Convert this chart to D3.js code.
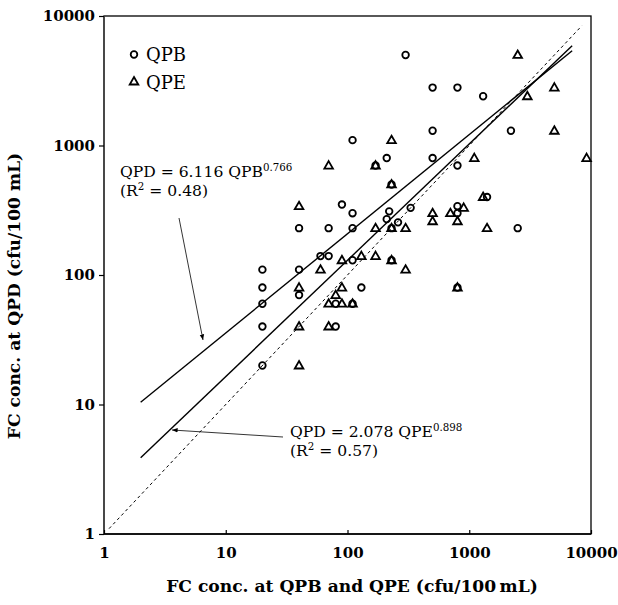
<!DOCTYPE html>
<html><head><meta charset="utf-8">
<script src="https://cdn.jsdelivr.net/npm/d3@7"></script>
<style>
html,body{margin:0;padding:0;background:#fff;}
text{font-family:"DejaVu Serif",serif;fill:#000;}
</style></head>
<body><svg id="chart" width="618" height="605"></svg>
<script>
// QPB samples: FC conc. at QPB (x) vs FC conc. at QPD (y)
const qpbX = [300,500,800,1300,110,500,2200,210,170,500,800,230,1400,90,110,330,800,800,220,210,260,40,70,110,230,2500,60,70,110,230,20,40,20,130,800,40,20,80,110,20,80,20];
const qpbY = [5000,2800,2800,2400,1100,1300,1300,800,700,800,700,500,400,350,300,330,340,300,310,270,255,230,230,230,230,230,140,140,130,130,110,110,80,80,80,70,60,60,60,40,40,20];
// QPE samples: FC conc. at QPE (x) vs FC conc. at QPD (y)
const qpeX = [2500,3000,5000,5000,230,70,170,1100,9200,230,1300,40,500,500,700,900,800,170,230,300,1400,90,130,170,230,60,300,40,90,800,80,70,90,110,40,70,40];
const qpeY = [5000,2400,2800,1300,1100,700,700,800,800,500,400,340,300,260,300,330,260,230,230,230,230,130,140,140,130,110,110,80,80,80,70,60,60,60,40,40,20];
// regression fits QPD = a * X^b
const fitNames = ["QPB","QPE"];
const fitA = [6.116, 2.078];
const fitB = [0.766, 0.898];
const fitR2 = ["0.48","0.57"];
const fitRange = [2, 7000];
const oneToOne = [1.1, 8400];
const tickValues = [1,10,100,1000,10000];
const tickLabels = ["1","10","100","1000","10000"];

const svg = d3.select("#chart");
const L=104, R=591, T=16, B=534;
const x = d3.scaleLog().domain([1,10000]).range([L,R]);
const y = d3.scaleLog().domain([1,10000]).range([B,T]);

// frame
svg.append("rect").attr("x",L).attr("y",T).attr("width",R-L).attr("height",B-T)
  .attr("fill","none").attr("stroke","#000").attr("stroke-width",1.3);
svg.append("line").attr("x1",L).attr("x2",L).attr("y1",T).attr("y2",B).attr("stroke","#444").attr("stroke-width",1.6);
svg.append("line").attr("x1",L).attr("x2",R).attr("y1",B).attr("y2",B).attr("stroke","#000").attr("stroke-width",1.6);

// axes
const xAxis = d3.axisBottom(x).tickValues(tickValues).tickFormat((d,i)=>tickLabels[i]).tickSizeInner(-4).tickSizeOuter(0).tickPadding(13);
const gx = svg.append("g").attr("transform",`translate(0,${B})`).call(xAxis);
const yAxis = d3.axisLeft(y).tickValues(tickValues).tickFormat((d,i)=>tickLabels[i]).tickSizeInner(5).tickSizeOuter(0).tickPadding(4);
const gy = svg.append("g").attr("transform",`translate(${L},0)`).call(yAxis);
[gx,gy].forEach(g=>{
  g.select(".domain").remove();
  g.selectAll(".tick line").attr("stroke","#000").attr("stroke-width",1.2);
  g.selectAll(".tick text").attr("font-family","DejaVu Serif").attr("font-weight","bold").attr("font-size",15).attr("fill","#000");
});

// axis titles (x title fitted to the reference width)
const xt = svg.append("text").attr("x",352).attr("y",592).attr("text-anchor","middle")
  .attr("font-weight","bold").attr("font-size",15).text("FC conc. at QPB and QPE (cfu/100\u2009mL)");
const fs = 15*372/xt.node().getComputedTextLength();
xt.attr("font-size",fs);
svg.append("text").attr("transform",`translate(20,296) rotate(-90)`).attr("text-anchor","middle")
  .attr("font-weight","bold").attr("font-size",fs).text("FC conc. at QPD (cfu/100 mL)");

// 1:1 dashed line
svg.append("line").attr("x1",x(oneToOne[0])).attr("y1",y(oneToOne[0])).attr("x2",x(oneToOne[1])).attr("y2",y(oneToOne[1]))
  .attr("stroke","#000").attr("stroke-width",1).attr("stroke-dasharray","3,3");

// fit lines
const line = d3.line().x(d=>x(d[0])).y(d=>y(d[1]));
fitA.forEach((a,i)=>{
  const pts = fitRange.map(v=>[v, a*Math.pow(v,fitB[i])]);
  svg.append("path").attr("d",line(pts)).attr("fill","none").attr("stroke","#000").attr("stroke-width",1.4);
});

// markers
const tri = d3.symbol(d3.symbolTriangle, 32);
svg.append("g").selectAll("circle").data(qpbX).join("circle")
  .attr("cx",(d)=>x(d)).attr("cy",(d,i)=>y(qpbY[i])).attr("r",3.3)
  .attr("fill","none").attr("stroke","#000").attr("stroke-width",1.8);
svg.append("g").selectAll("path").data(qpeX).join("path")
  .attr("d",tri).attr("transform",(d,i)=>`translate(${x(d)},${y(qpeY[i])+0.5})`)
  .attr("fill","none").attr("stroke","#000").attr("stroke-width",1.8);

// legend
svg.append("circle").attr("cx",134).attr("cy",54.5).attr("r",3.3).attr("fill","none").attr("stroke","#000").attr("stroke-width",1.8);
svg.append("path").attr("d",tri).attr("transform","translate(134,82)").attr("fill","none").attr("stroke","#000").attr("stroke-width",1.8);
svg.append("text").attr("x",146).attr("y",61).attr("font-size",18).text("QPB");
svg.append("text").attr("x",146).attr("y",88.5).attr("font-size",18).text("QPE");

// annotations
function eq(xp, yp, i){
  const t = svg.append("text").attr("x",xp).attr("y",yp).attr("font-size",15);
  const main = t.append("tspan").text(`QPD = ${fitA[i].toFixed(3)} ${fitNames[i]}`);
  const w = main.node().getComputedTextLength();
  const f = 15*143/w;
  t.attr("font-size",f);
  t.append("tspan").attr("dy",-6).attr("font-size",f*0.66).text(fitB[i].toFixed(3));
  const r = svg.append("text").attr("x",xp).attr("y",yp+19).attr("font-size",f);
  r.append("tspan").text("(R");
  r.append("tspan").attr("dy",-6).attr("font-size",f*0.66).text("2");
  r.append("tspan").attr("dy",6).text(` = ${fitR2[i]})`);
}
eq(120,177,0);
eq(290,437,1);

// arrows
svg.append("defs").append("marker").attr("id","ah").attr("viewBox","0 0 10 10").attr("refX",10).attr("refY",5)
  .attr("markerWidth",7).attr("markerHeight",7).attr("orient","auto")
  .append("path").attr("d","M0,1L10,5L0,9Z").attr("fill","#000");
svg.append("line").attr("x1",179).attr("y1",218).attr("x2",203).attr("y2",340)
  .attr("stroke","#000").attr("stroke-width",0.8).attr("marker-end","url(#ah)");
svg.append("line").attr("x1",283).attr("y1",437).attr("x2",172).attr("y2",430)
  .attr("stroke","#000").attr("stroke-width",0.8).attr("marker-end","url(#ah)");
</script></body></html>
